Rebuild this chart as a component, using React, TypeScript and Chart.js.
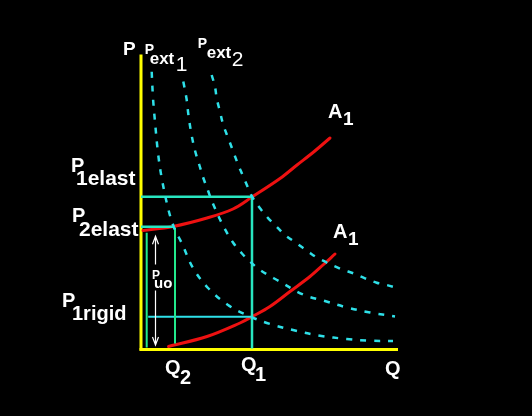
import React, { useEffect, useRef } from "react";
import { Chart, registerables } from "chart.js";

Chart.register(...registerables);

// Axis extents (Q = quantity, P = price)
const Q_AXIS_END = 257;
const P_AXIS_TOP = 295;

// Key levels
const P1_ELAST = 152.8;
const P2_ELAST = 122.8;
const P1_RIGID = 32.8;
const Q1 = 111;
const Q2 = 34;
const Q_INNER = 5.7;
const Q_PUO = 14;

// Iso-price curves (Pext)
const EXT1_Q = [10.7, 12, 14, 17, 20.7, 27, 33, 40.7, 52, 67, 87, 105.7, 129, 154, 179, 205.7, 229, 252];
const EXT1_P = [277.8, 251.5, 227.8, 196.5, 171.5, 141.5, 122, 106.5, 81.5, 61.5, 44.5, 34.5, 25.5, 19, 13.8, 10.5, 8.8, 8.5];

const EXT2_Q = [42.3, 45.5, 47.5, 50.5, 54, 58.5, 62.5, 67, 71, 81.5, 92, 101, 109, 117, 127, 136, 162, 182, 206, 229, 254];
const EXT2_P = [268, 251, 234, 215, 199, 184, 171, 159, 148, 125, 107, 96, 88, 81, 74.5, 69.5, 55, 49, 42, 37, 33];

const EXT3_Q = [70.7, 74, 75.7, 79, 82.3, 87.3, 92.3, 97.3, 102.3, 107.3, 111, 119, 127.3, 135.7, 144, 155.7, 167.3, 177.3, 200.7, 212.3, 224, 235.7, 245.7, 257.3];
const EXT3_P = [274.5, 262.8, 251.2, 237.8, 224.5, 211.2, 197.8, 184.5, 172.8, 161.2, 153, 141.2, 131.2, 122.8, 114.5, 106.2, 97.8, 91.2, 80.2, 76.2, 71.2, 66.8, 64.5, 61.2];

// Supply curves A1
const A1_UP_Q = [2, 32, 66, 92, 111, 139, 156, 172, 189];
const A1_UP_P = [119, 123, 131.5, 140.5, 152.5, 171, 184.5, 197, 211.5];

const A1_LOW_Q = [27.5, 66, 99, 111, 129, 149, 169, 182, 194];
const A1_LOW_P = [3, 13, 26.5, 32.8, 43, 58, 73, 84.5, 95.5];

const pts = (qs: number[], ps: number[]) => qs.map((q, i) => ({ x: q, y: ps[i] }));

const YELLOW = "#ffff00";
const RED = "#ee1111";
const CYAN = "#2ee0e8";
const GREEN = "#22e88c";
const TEAL = "#28e6c0";

function lineDs(data: { x: number; y: number }[], color: string, width: number, extra: any = {}) {
  return {
    data,
    borderColor: color,
    backgroundColor: color,
    borderWidth: width,
    pointRadius: 0,
    showLine: true,
    fill: false,
    tension: 0,
    clip: false,
    ...extra,
  };
}

const textPlugin = {
  id: "textPlugin",
  afterDatasetsDraw(chart: any) {
    const { ctx } = chart;
    const xs = chart.scales.x;
    const ys = chart.scales.y;
    const X = (q: number) => xs.getPixelForValue(q);
    const Y = (p: number) => ys.getPixelForValue(p);
    const F = '"Liberation Sans", Arial, sans-serif';
    ctx.save();
    ctx.fillStyle = "#ffffff";
    ctx.textBaseline = "alphabetic";
    ctx.textAlign = "left";
    const t = (s: string, x: number, y: number, size: number, weight = "bold") => {
      ctx.font = `${weight} ${size}px ${F}`;
      ctx.fillText(s, x, y);
    };
    // Axis labels
    t("P", X(0) - 18, Y(P_AXIS_TOP), 19);
    t("Q", X(Q_AXIS_END) - 13, Y(0) + 25, 20);
    // Pext labels
    t("P", X(EXT1_Q[0]) - 7, Y(P_AXIS_TOP) - 1, 14);
    t("ext", X(EXT1_Q[0]) - 2, Y(P_AXIS_TOP) + 9, 17);
    t("1", X(EXT1_Q[0]) + 24, Y(P_AXIS_TOP) + 16, 21, "normal");
    t("P", X(EXT3_Q[0]) - 14, Y(P_AXIS_TOP) - 7, 14);
    t("ext", X(EXT3_Q[0]) - 5, Y(P_AXIS_TOP) + 3, 17);
    t("2", X(EXT3_Q[0]) + 20, Y(P_AXIS_TOP) + 11, 21, "normal");
    // Price levels
    t("P", X(0) - 70, Y(P1_ELAST) - 25, 20);
    t("1elast", X(0) - 65, Y(P1_ELAST) - 12, 21);
    t("P", X(0) - 69, Y(P2_ELAST) - 5, 20);
    t("2elast", X(0) - 62, Y(P2_ELAST) + 9, 21);
    t("P", X(0) - 79, Y(P1_RIGID) - 10, 20);
    t("1rigid", X(0) - 69, Y(P1_RIGID) + 3, 20);
    // A1 labels
    const upEnd = A1_UP_Q.length - 1;
    t("A", X(A1_UP_Q[upEnd]) - 2, Y(A1_UP_P[upEnd]) - 20, 20);
    t("1", X(A1_UP_Q[upEnd]) + 13, Y(A1_UP_P[upEnd]) - 13, 19);
    const lowEnd = A1_LOW_Q.length - 1;
    t("A", X(A1_LOW_Q[lowEnd]) - 2, Y(A1_LOW_P[lowEnd]) - 16, 20);
    t("1", X(A1_LOW_Q[lowEnd]) + 13, Y(A1_LOW_P[lowEnd]) - 9, 19);
    // Quantities
    t("Q", X(Q2) - 10, Y(0) + 24, 20);
    t("2", X(Q2) + 5, Y(0) + 34, 20);
    t("Q", X(Q1) - 11, Y(0) + 21, 20);
    t("1", X(Q1) + 3, Y(0) + 31, 20);
    // Puo label
    t("P", X(Q_PUO) - 3, Y(0) - 71, 12);
    t("uo", X(Q_PUO) - 1, Y(0) - 62, 15);

    // Double arrow (Puo)
    const ax = Math.round(X(Q_PUO)) + 0.5;
    const top = Y(P2_ELAST - 9.5);
    const bot = Y(4.5);
    ctx.strokeStyle = "#ffffff";
    ctx.lineWidth = 1.2;
    ctx.beginPath();
    ctx.moveTo(ax, top);
    ctx.lineTo(ax, Y(0) - 85);
    ctx.moveTo(ax, Y(0) - 59);
    ctx.lineTo(ax, bot);
    ctx.moveTo(ax - 3, top + 8);
    ctx.lineTo(ax, top);
    ctx.lineTo(ax + 3, top + 8);
    ctx.moveTo(ax - 3, bot - 8);
    ctx.lineTo(ax, bot);
    ctx.lineTo(ax + 3, bot - 8);
    ctx.stroke();
    ctx.restore();
  },
};

export default function App() {
  const ref = useRef<HTMLCanvasElement | null>(null);
  useEffect(() => {
    if (!ref.current) return;
    const dashed = { borderDash: [6, 8], tension: 0.35, borderCapStyle: "butt" };
    const curved = { tension: 0.35, borderCapStyle: "round" };
    const chart = new Chart(ref.current, {
      type: "scatter",
      data: {
        datasets: [
          lineDs(pts(EXT1_Q, EXT1_P), CYAN, 2.5, dashed),
          lineDs(pts(EXT2_Q, EXT2_P), CYAN, 2.5, dashed),
          lineDs(pts(EXT3_Q, EXT3_P), CYAN, 2.5, dashed),
          // guides
          lineDs([{ x: 0, y: P1_ELAST }, { x: Q1 + 1, y: P1_ELAST }], TEAL, 2.5),
          lineDs([{ x: Q1, y: P1_ELAST }, { x: Q1, y: 1 }], TEAL, 2.5),
          lineDs([{ x: 0, y: P2_ELAST }, { x: Q2 - 1, y: P2_ELAST }], TEAL, 2.5),
          lineDs([{ x: Q2, y: P2_ELAST - 1 }, { x: Q2, y: 6 }], GREEN, 2),
          lineDs([{ x: Q_INNER, y: P2_ELAST - 6 }, { x: Q_INNER, y: 2 }], GREEN, 2),
          lineDs([{ x: Q_INNER + 1.5, y: P1_RIGID }, { x: Q1, y: P1_RIGID }], CYAN, 2),
          // supply curves
          lineDs(pts(A1_UP_Q, A1_UP_P), RED, 3, curved),
          lineDs(pts(A1_LOW_Q, A1_LOW_P), RED, 3, curved),
          // axes
          lineDs([{ x: 0, y: -1 }, { x: 0, y: P_AXIS_TOP }], YELLOW, 3),
          lineDs([{ x: -1.5, y: 0 }, { x: Q_AXIS_END, y: 0 }], YELLOW, 3),
        ],
      },
      options: {
        animation: false,
        responsive: false,
        maintainAspectRatio: false,
        layout: { padding: { left: 141, right: 131, top: 49.5, bottom: 66.5 } },
        scales: {
          x: { type: "linear", min: 0, max: 260, display: false },
          y: { type: "linear", min: 0, max: 300, display: false },
        },
        plugins: { legend: { display: false }, tooltip: { enabled: false } },
      } as any,
      plugins: [textPlugin],
    } as any);
    return () => chart.destroy();
  }, []);
  return (
    <div style={{ position: "fixed", left: 0, top: 0, width: 532, height: 416, background: "#000" }}>
      <canvas ref={ref} width={532} height={416} style={{ display: "block", width: 532, height: 416 }} />
    </div>
  );
}
